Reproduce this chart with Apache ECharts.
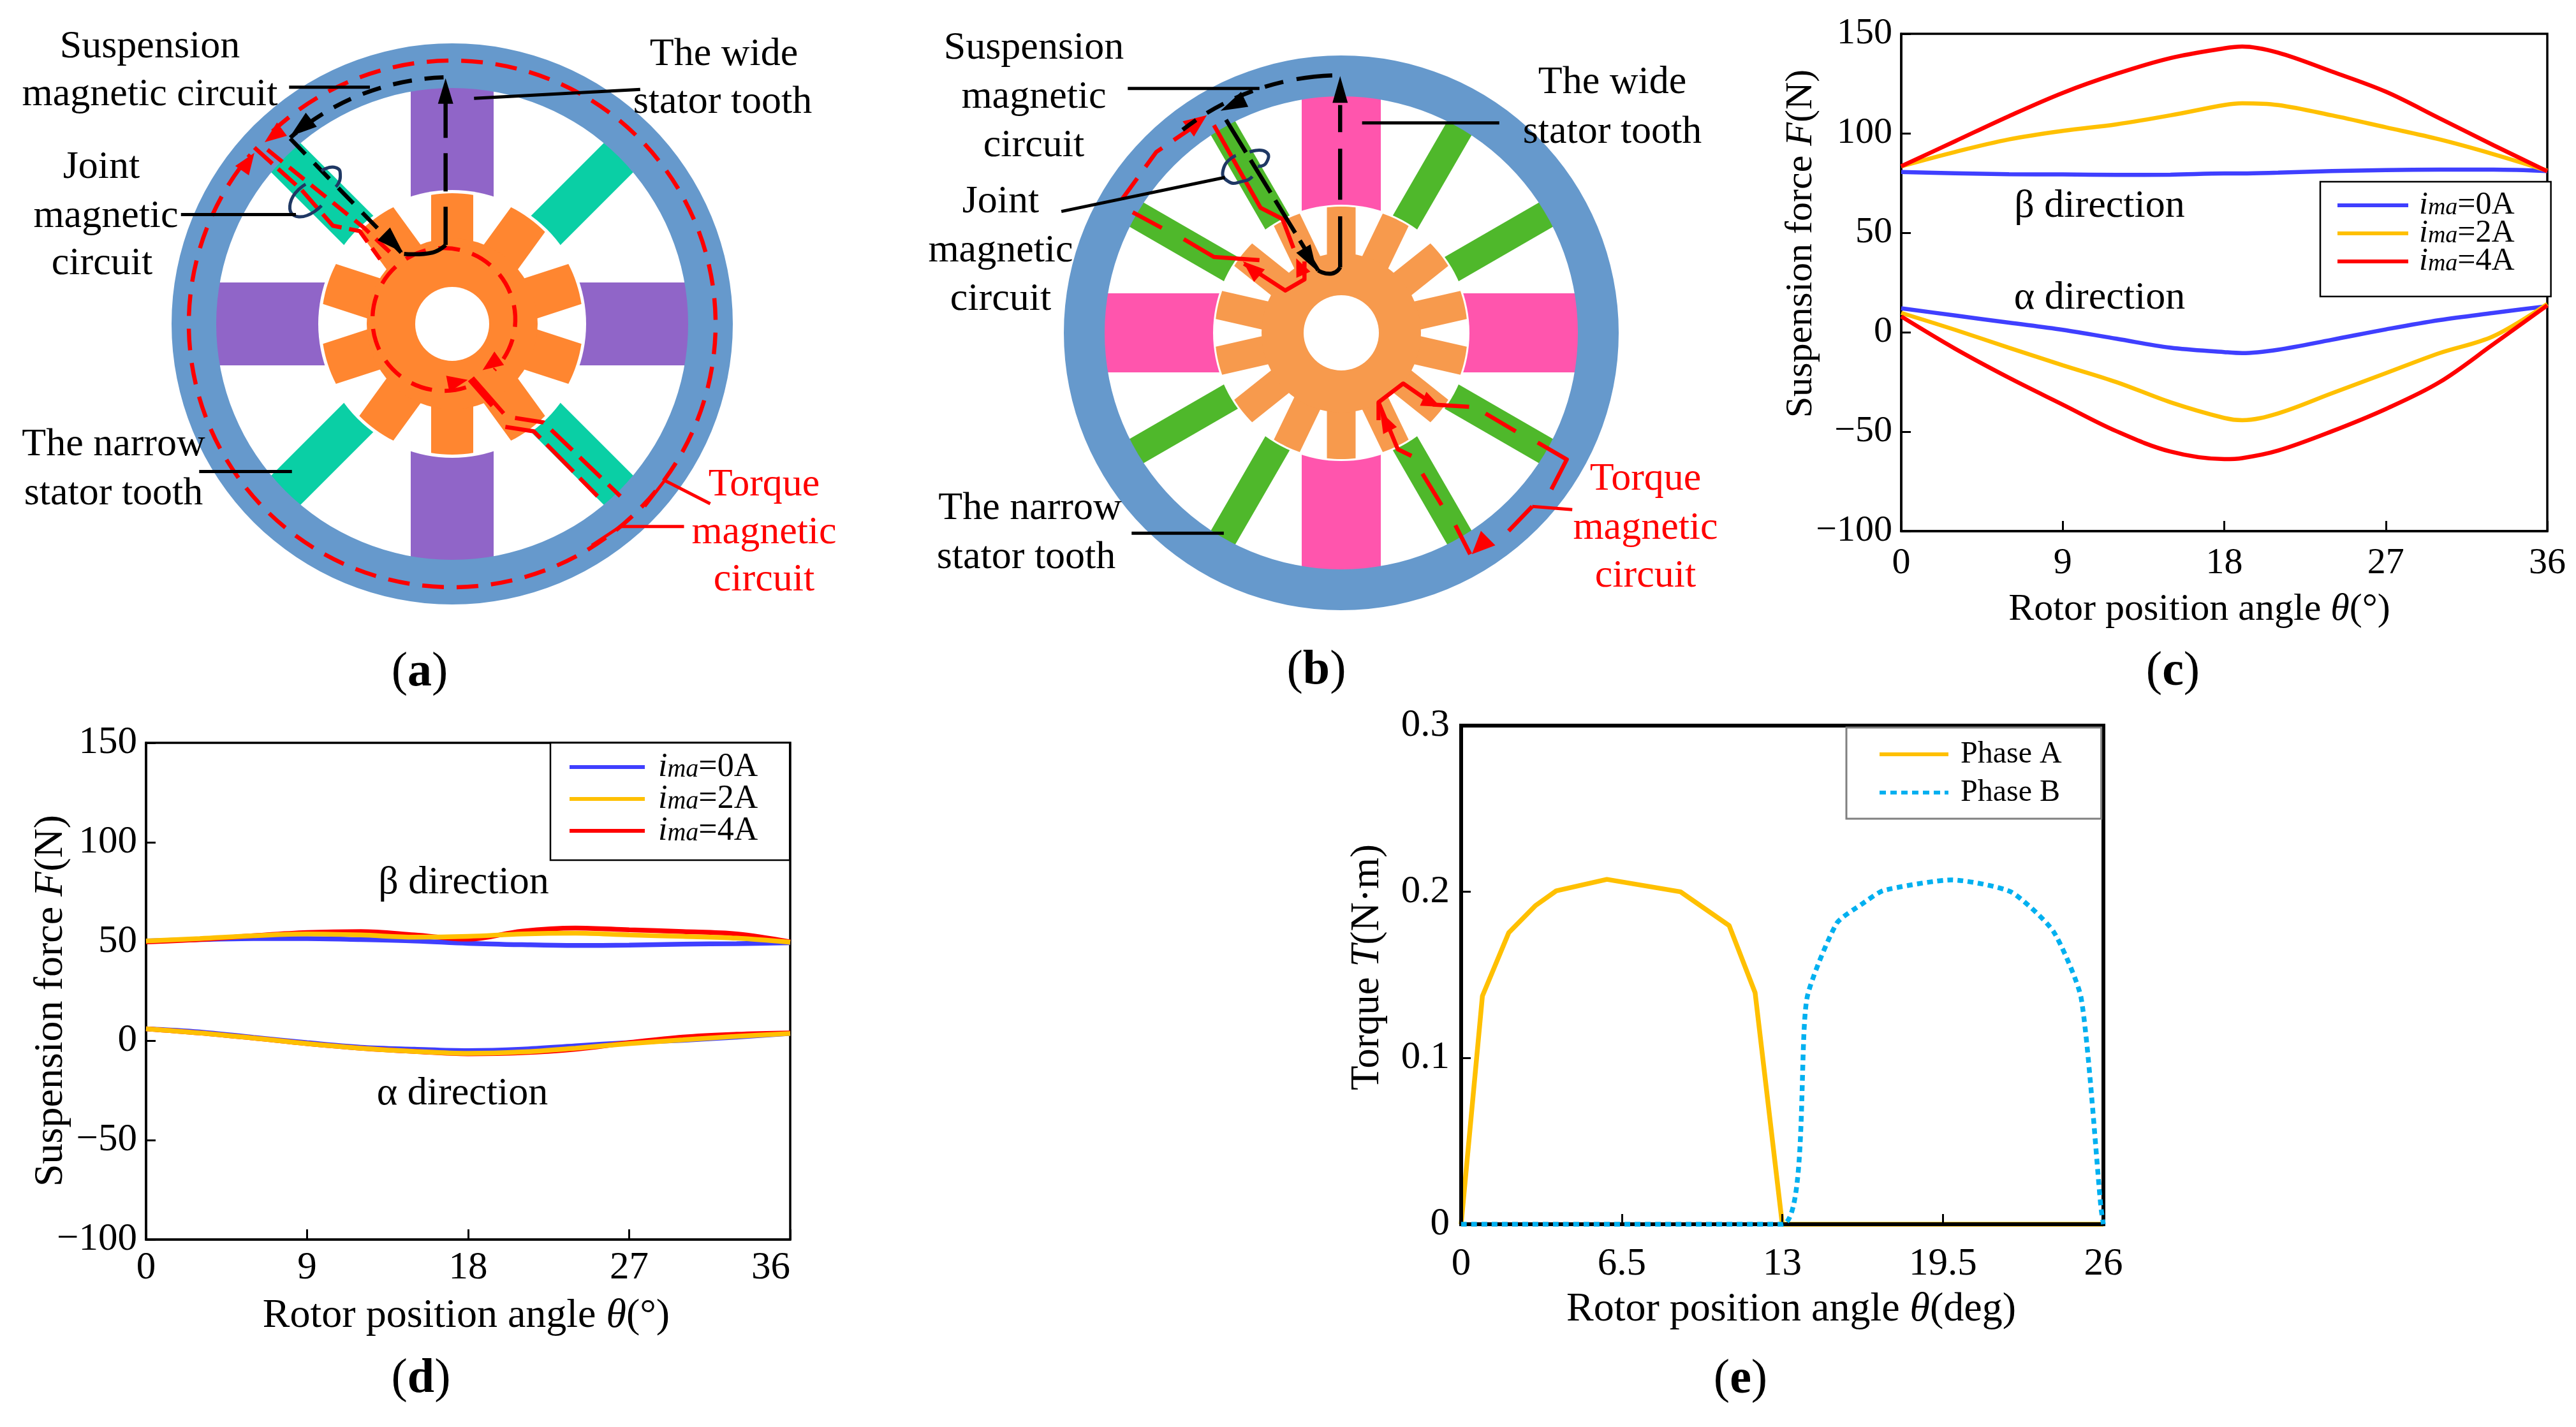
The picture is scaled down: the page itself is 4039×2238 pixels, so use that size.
<!DOCTYPE html>
<html><head><meta charset="utf-8">
<style>html,body{margin:0;padding:0;background:#fff}#c{width:4039px;height:2238px}</style>
<script src="https://cdn.jsdelivr.net/npm/echarts@6/dist/echarts.min.js"></script>
</head><body><div id="c"></div>
<script>
// ---------- chart data ----------
const angleC = [0,3,6,9,12,15,18,19,21,24,27,30,33,36];
const cBeta0 = [80.5,79.9,79.4,79.3,79.1,79.2,79.8,79.8,80.2,81,81.5,81.7,81.7,81];
const cBeta2 = [83.4,90.6,96.9,101.2,104.5,109,114.2,115.1,114.2,109,103,96.9,89.5,81.2];
const cBeta4 = [83.4,96,108.6,120.3,129.9,137.8,142.7,143.6,140.5,131,120.9,107.5,94,80.9];
const cAlpha0 = [12,8.4,4.8,1.2,-3.3,-7.8,-10,-10.5,-8.8,-3.8,1.4,6.1,9.7,13.1];
const cAlpha2 = [9.7,1.2,-7.8,-16.6,-25.1,-35.2,-43.1,-44.2,-40.8,-30.7,-20.6,-10.5,-2,14.2];
const cAlpha4 = [7.9,-8.3,-22.9,-36.4,-49.8,-60,-63.8,-63.3,-59.5,-49.8,-38.6,-25.1,-6,13.5];

const angleD = [0,3,6,9,12,15,18,21,24,27,30,33,36];
const dBeta0 = [50.3,51,51.5,51.5,51,50.3,49.1,48.4,48,48.2,48.7,48.9,49.4];
const dBeta2 = [50.3,51.5,52.9,53.8,53.3,52.2,52.6,53.8,54.2,53.3,52.6,51.7,49.6];
const dBeta4 = [49.8,51,52.9,54.5,55,53.3,51.2,55.2,56.8,55.9,55,53.8,49.8];
const dAlpha0 = [6.1,4.5,1.7,-0.9,-3.2,-4.2,-4.9,-4.2,-2.5,-0.9,0.3,1.9,3.7];
const dAlpha2 = [6.1,4,1.4,-1.4,-3.7,-5.3,-6.3,-5.6,-3.7,-1.4,0.5,2.3,3.7];
const dAlpha4 = [6.1,4,1.4,-1.4,-3.7,-5.3,-6.5,-6,-4.2,-0.9,1.9,3.3,4];

const phaseAAngle = [0,0.86,1.93,3,3.85,5.9,8.88,10.85,11.9,13,26];
const phaseATorque = [0,0.1373,0.1755,0.1916,0.2006,0.2075,0.2,0.1797,0.1393,0,0];
const phaseBAngle = [0,13,14,15.2,16.26,17.1,19.86,22.25,23.97,25.1,25.9,26];
const phaseBTorque = [0,0,0.136,0.181,0.193,0.2008,0.2072,0.2,0.1763,0.136,0.01,0];

const currentNames = ['i=0','i=2','i=4'];
const currentLabels = ['0A','2A','4A'];
const phaseNames = ['Phase A','Phase B'];

// ---------- styling ----------
const FONT = '"Liberation Serif","Times New Roman",serif';
const BLUE='#3F3FFF', YEL='#FFC000', RED='#FF0000', CYAN='#00B0F0';
const pairs=(xs,ys)=>xs.map((x,i)=>[x,ys[i]]);
const fmtMinus=v=>String(v).replace('-','\u2212');

function ln(name,xs,ys,color,grid,w,extra){
  return Object.assign({type:'line',name,xAxisIndex:grid,yAxisIndex:grid,showSymbol:false,symbol:'none',
    smooth:0.35,data:pairs(xs,ys),lineStyle:{color,width:w},itemStyle:{color},silent:true,clip:false,animation:false},extra||{});
}
function nameStyle(size,pad){
  return {fontFamily:FONT,fontSize:size,color:'#000',padding:pad,rich:{i:{fontFamily:FONT,fontSize:size,fontStyle:'italic',color:'#000'}}};
}
function xAxis(i,max,interval,gap,lw,nameText,pad,margin,size,labelSize,extraLabel){
  return {type:'value',gridIndex:i,min:0,max,interval,name:nameText,nameLocation:'middle',nameGap:gap,
    nameTextStyle:nameStyle(size,pad),
    axisLine:{show:true,onZero:false,lineStyle:{color:'#000',width:lw}},
    axisTick:{show:true,inside:true,length:16,lineStyle:{color:'#000',width:3}},
    axisLabel:Object.assign({fontFamily:FONT,fontSize:labelSize,color:'#000',margin},extraLabel||{}),splitLine:{show:false},z:3};
}
function yAxis(i,min,max,interval,gap,lw,nameText,pad,margin,size,labelSize){
  return {type:'value',gridIndex:i,min,max,interval,name:nameText,nameLocation:'middle',nameGap:gap,nameRotate:90,
    nameMoveOverlap:false,
    nameTextStyle:nameStyle(size,pad),
    axisLine:{show:true,onZero:false,lineStyle:{color:'#000',width:lw}},
    axisTick:{show:true,inside:true,length:15,lineStyle:{color:'#000',width:3}},
    axisLabel:{fontFamily:FONT,fontSize:labelSize,color:'#000',margin,formatter:fmtMinus},splitLine:{show:false},z:3};
}
function currentLegend(left,top,size,gapH,pad,iw,g,lh,bar){
  const sm=Math.round(size*0.76);
  return {show:true,orient:'vertical',left,top,padding:pad,icon:'rect',itemWidth:iw,itemHeight:bar,itemGap:gapH,
    data:currentNames,selectedMode:false,backgroundColor:'#fff',borderColor:'#000',borderWidth:2.5,borderRadius:0,
    textStyle:{fontFamily:FONT,fontSize:size,lineHeight:lh,height:lh,color:'#000',padding:[0,0,0,g],rich:{
      i:{fontFamily:FONT,fontSize:size,fontStyle:'italic',color:'#000',lineHeight:lh},
      m:{fontFamily:FONT,fontSize:sm,fontStyle:'italic',color:'#000',lineHeight:lh,verticalAlign:'bottom'},
      t:{fontFamily:FONT,fontSize:size,color:'#000',lineHeight:lh}}},
    formatter:n=>'{i|i}{m|ma}{t|='+currentLabels[currentNames.indexOf(n)]+'}'};
}

// ---------- schematic geometry (not chart data) ----------
const SY=0.701, SXA=1400/1569, SXB=1350/1569;
const A=(x,y)=>[x*SXA,y*SY];
const B=(x,y)=>[1400+x*SXB,y*SY];
const rad=d=>d*Math.PI/180;
const els=[];
function circle(cx,cy,r,fill){els.push({type:'circle',shape:{cx,cy,r},style:{fill},silent:true});}
function ring(cx,cy,r,r0,fill){els.push({type:'ring',shape:{cx,cy,r,r0},style:{fill},silent:true});}
function tooth(cx,cy,deg,w,r1,r2,fill){
  const a=rad(deg),ux=Math.cos(a),uy=-Math.sin(a),vx=-uy,vy=ux,h=w/2,pts=[];
  pts.push([cx+ux*r1+vx*h,cy+uy*r1+vy*h]);
  const phi=Math.asin(h/r2);
  for(let k=0;k<=8;k++){const t=phi-2*phi*k/8;const ca=a-t;pts.push([cx+Math.cos(ca)*r2,cy-Math.sin(ca)*r2]);}
  pts.push([cx+ux*r1-vx*h,cy+uy*r1-vy*h]);
  els.push({type:'polygon',shape:{points:pts},style:{fill},silent:true});
}
function path(pts,color,w,dash,smooth){
  els.push({type:'polyline',shape:{points:pts,smooth:smooth||0},style:{stroke:color,fill:null,lineWidth:w,lineDash:dash||null,lineCap:'butt',lineJoin:'round'},silent:true});
}
function arc(cx,cy,r,s,e,cw,color,w,dash){
  els.push({type:'arc',shape:{cx,cy,r,startAngle:rad(s),endAngle:rad(e),clockwise:cw},style:{stroke:color,fill:null,lineWidth:w,lineDash:dash||null},silent:true});
}
function arrow(from,tip,color,len,wid){
  const dx=tip[0]-from[0],dy=tip[1]-from[1],d=Math.hypot(dx,dy),ux=dx/d,uy=dy/d;
  const bx=tip[0]-ux*len,by=tip[1]-uy*len;
  els.push({type:'polygon',shape:{points:[tip,[bx-uy*wid/2,by+ux*wid/2],[bx+uy*wid/2,by-ux*wid/2]]},style:{fill:color},silent:true});
}
function txt(x,y,s,color,size,rich,rot){
  els.push({type:'text',x,y,rotation:rot||0,silent:true,z:50,style:{text:s,x:0,y:0,fill:color||'#000',font:(size||60)+'px '+FONT,
    fontFamily:FONT,fontSize:size||60,align:'center',verticalAlign:'middle',textAlign:'center',textVerticalAlign:'middle',rich:rich||undefined}});
}
const D=[30,20], DS=[34,20], W=6.5, WL=5;

// --- motor (a)
(function(){
  const cx=709,cy=508;
  [0,90,180,270].forEach(a=>tooth(cx,cy,a,130,0,385,'#9065C8'));
  [45,135,225,315].forEach(a=>tooth(cx,cy,a,65,0,385,'#0ACFA5'));
  ring(cx,cy,440,370,'#6699CC');
  circle(cx,cy,210,'#fff');
  for(let k=0;k<10;k++) tooth(cx,cy,90+36*k,66,0,205,'#FF8630');
  circle(cx,cy,134,'#FF8630');
  circle(cx,cy,58,'#fff');
  // torque path
  arc(cx,cy,413,-133,220,true,RED,W,DS);
  arrow(A(410,410),A(447,342),RED,34,26);
  arrow(A(510,275),A(465,318),RED,34,26);
  arc(696,501,112,72,405,true,RED,W,DS);
  arrow(A(890,790),A(848,828),RED,32,26);
  arrow(A(750,868),A(822,850),RED,32,26);
  path([A(470,335),A(640,510),A(690,570)],RED,W,[30,14]);
  path([A(447,330),A(530,425),A(585,505),A(632,517),A(668,580)],RED,W,[38,12]);
  path([A(830,845),A(885,925)],RED,W);
  path([A(825,850),A(865,908)],RED,W);
  path([A(905,935),A(955,945),A(1090,1110)],RED,W,[46,16]);
  path([A(888,955),A(938,965),A(1050,1110)],RED,W,[60,14]);
  // suspension path
  arc(709,508,387,-92,-131,false,'#000',W,D);
  arrow(A(590,225),A(510,305),'#000',42,28);
  path([A(510,310),A(705,565)],'#000',W,[34,20]);
  arrow(A(640,480),A(708,565),'#000',42,28);
  path([A(710,568),A(760,565),A(783,548)],'#000',W,null,0.5);
  path([A(783,548),A(783,230)],'#000',W,[60,24]);
  arrow(A(783,260),A(783,175),'#000',40,24);
  // joint mark
  path([A(565,382),A(590,375),A(598,395),A(590,418)],'#1F3864',WL,null,0.6);
  path([A(537,412),A(510,455),A(525,485),A(565,460)],'#1F3864',WL,null,0.6);
  // leaders
  path([A(508,195),A(650,195)],'#000',WL);
  path([A(1125,200),A(833,220)],'#000',WL);
  path([A(318,480),A(520,480)],'#000',WL);
  path([A(350,1055),A(513,1055)],'#000',WL);
  path([A(1248,1127),A(1168,1075),A(1133,1133)],RED,WL);
  path([A(1202,1178),A(1090,1178),A(1040,1220)],RED,WL);
})();

// --- motor (b)
(function(){
  const cx=2103,cy=522;
  [0,90,180,270].forEach(a=>tooth(cx,cy,a,124,0,385,'#FF55AD'));
  [30,60,120,150,210,240,300,330].forEach(a=>tooth(cx,cy,a,44,0,385,'#4FB82B'));
  ring(cx,cy,435,371,'#6699CC');
  circle(cx,cy,201,'#fff');
  for(let k=0;k<14;k++) tooth(cx,cy,90+360/14*k,45,0,198,'#F79A4D');
  circle(cx,cy,125,'#F79A4D');
  circle(cx,cy,59,'#fff');
  // torque path
  path([B(418,445),B(480,340),B(540,290)],RED,W,[40,22]);
  arrow(B(520,305),B(572,258),RED,36,30);
  path([B(437,475),B(490,510)],RED,W);
  path([B(530,535),B(585,575),B(668,582)],RED,W);
  path([B(640,590),B(715,650),B(750,625),B(750,585)],RED,W);
  arrow(B(690,640),B(638,585),RED,34,26);
  arrow(B(750,620),B(735,578),RED,28,24);
  path([B(585,280),B(670,465),B(710,490),B(730,555)],RED,W);
  path([B(885,940),B(885,900),B(930,858),B(985,905),B(1050,910)],RED,W);
  arrow(B(945,880),B(998,910),RED,30,24);
  path([B(1080,925),B(1135,965)],RED,W);
  path([B(1175,990),B(1228,1028),B(1200,1095)],RED,W);
  path([B(1165,1133),B(1122,1188)],RED,W);
  path([B(1238,1140),B(1165,1133)],RED,WL);
  path([B(885,900),B(920,1005),B(945,1020)],RED,W);
  arrow(B(915,985),B(888,920),RED,34,24);
  path([B(965,1060),B(1000,1130)],RED,W);
  path([B(1025,1175),B(1052,1240)],RED,W);
  arrow(B(1100,1185),B(1055,1240),RED,36,32);
  // suspension path
  arc(cx,cy,404,-92,-100,false,'#000',W);
  arc(cx,cy,404,-103,-128,false,'#000',W,[30,20]);
  arrow(B(670,205),B(597,248),'#000',42,26);
  path([B(607,268),B(775,605)],'#000',W,[60,14]);
  arrow(B(745,550),B(772,605),'#000',40,26);
  path([B(775,605),B(800,612),B(815,598)],'#000',W,null,0.6);
  path([B(815,598),B(815,235)],'#000',W,[80,26]);
  arrow(B(815,260),B(815,170),'#000',42,24);
  // joint mark
  path([B(625,348),B(603,375),B(610,405),B(640,405),B(655,395)],'#1F3864',WL,null,0.6);
  path([B(650,340),B(680,340),B(680,365),B(665,372)],'#1F3864',WL,null,0.6);
  // leaders
  path([B(428,198),B(668,198)],'#000',WL);
  path([B(855,275),B(1105,275)],'#000',WL);
  path([B(307,473),B(605,397)],'#000',WL);
  path([B(435,1193),B(603,1193)],'#000',WL);
})();

// --- annotation text
[[235,74,'Suspension'],[235,149,'magnetic circuit'],[1135,86,'The wide'],[1133,161,'stator tooth'],
 [159,263,'Joint'],[166,340,'magnetic'],[160,414,'circuit'],[178,698,'The narrow'],[178,775,'stator tooth'],
 [1621,76,'Suspension'],[1621,153,'magnetic'],[1621,229,'circuit'],[2528,130,'The wide'],[2528,208,'stator tooth'],
 [1569,317,'Joint'],[1569,394,'magnetic'],[1569,470,'circuit'],[1615,798,'The narrow'],[1609,875,'stator tooth'],
 [3292,324,'\u03B2 direction'],[3292,468,'\u03B1 direction'],[727,1385,'\u03B2 direction'],[725,1716,'\u03B1 direction']
].forEach(t=>txt(t[0],t[1],t[2],'#000',62));
[[1198,761,'Torque'],[1198,836,'magnetic'],[1198,910,'circuit'],[2580,752,'Torque'],[2580,829,'magnetic'],[2580,904,'circuit']
].forEach(t=>txt(t[0],t[1],t[2],RED,62));
const capRich={b:{fontFamily:FONT,fontSize:76,fontWeight:'bold',fill:'#000',color:'#000'},n:{fontFamily:FONT,fontSize:76,fill:'#000',color:'#000'}};
[[658,1055,'a'],[2064,1052,'b'],[3407,1054,'c'],[660,2163,'d'],[2729,2164,'e']].forEach(t=>
  txt(t[0],t[1],'{n|(}{b|'+t[2]+'}{n|)}','#000',76,capRich));

// ---------- option ----------
const option={
  animation:false,backgroundColor:'#fff',
  grid:[
    {left:2981,top:53,width:1013,height:780,show:true,borderColor:'#000',borderWidth:3.5,backgroundColor:'transparent'},
    {left:229,top:1165,width:1010,height:779,show:true,borderColor:'#000',borderWidth:3.5,backgroundColor:'transparent'},
    {left:2291,top:1138,width:1007,height:782,show:true,borderColor:'#000',borderWidth:6,backgroundColor:'transparent'}
  ],
  xAxis:[
    xAxis(0,36,9,93,3.5,'Rotor position angle {i|\u03B8}(\u00B0)',[0,78,0,0],22,60,58),
    xAxis(1,36,9,88,3.5,'Rotor position angle {i|\u03B8}(\u00B0)',[0,6,0,0],14,64,61,{alignMaxLabel:'right'}),
    xAxis(2,26,6.5,102,6,'Rotor position angle {i|\u03B8}(deg)',[0,0,0,28],32,64,61)
  ],
  yAxis:[
    yAxis(0,-100,150,50,127,3.5,'Suspension force {i|F}(N)',[0,0,0,122],14,60,58),
    yAxis(1,-100,150,50,117,3.5,'Suspension force {i|F}(N)',[0,30,0,0],14,64,61),
    yAxis(2,0,0.3,0.1,115,6,'Torque {i|T}(N\u00B7m)',[0,0,0,24],18,63,61)
  ],
  legend:[
    currentLegend(3638,285,50,-6,[12,57,30,27],111,12,46,6),
    currentLegend(863,1165,52,-2,[12,50,20,30],118,16,48,6),
    {show:true,orient:'vertical',left:2895,top:1141,padding:[18,62,17,52],itemWidth:108,itemHeight:6,itemGap:12,
     data:[{name:phaseNames[0],icon:'rect'},
           {name:phaseNames[1],icon:'path://M0 0H10V6H0ZM17 0H27V6H17ZM34 0H44V6H34ZM51 0H61V6H51ZM68 0H78V6H68ZM85 0H95V6H85ZM102 0H108V6H102Z'}],
     selectedMode:false,backgroundColor:'#fff',borderColor:'#808080',borderWidth:3,
     textStyle:{fontFamily:FONT,fontSize:48,color:'#000',lineHeight:46,padding:[0,0,0,14]}}
  ],
  series:[
    ln('i=0',angleC,cBeta0,BLUE,0,6.5),ln('i=2',angleC,cBeta2,YEL,0,6.5),ln('i=4',angleC,cBeta4,RED,0,6.5),
    ln('i=0',angleC,cAlpha0,BLUE,0,6.5),ln('i=2',angleC,cAlpha2,YEL,0,6.5),ln('i=4',angleC,cAlpha4,RED,0,6.5),
    ln('i=0',angleD,dBeta0,BLUE,1,7.5),ln('i=4',angleD,dBeta4,RED,1,7.5),ln('i=2',angleD,dBeta2,YEL,1,7.5),
    ln('i=0',angleD,dAlpha0,BLUE,1,7.5),ln('i=4',angleD,dAlpha4,RED,1,7.5),ln('i=2',angleD,dAlpha2,YEL,1,7.5),
    ln('Phase A',phaseAAngle,phaseATorque,YEL,2,7.5,{smooth:false,z:2}),
    ln('Phase B',phaseBAngle,phaseBTorque,CYAN,2,7.5,{smooth:0.2,z:4,lineStyle:{color:CYAN,width:7.5,type:[9,7]}})
  ],
  graphic:{elements:els}
};
const chart=echarts.init(document.getElementById('c'),null,{width:4039,height:2238});
chart.setOption(option);
</script></body></html>
